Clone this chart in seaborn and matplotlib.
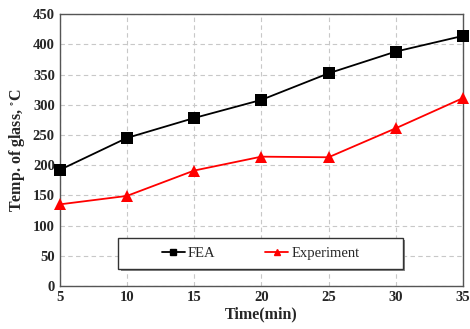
import pandas as pd
import seaborn as sns
import matplotlib.pyplot as plt
from matplotlib.ticker import MultipleLocator
from matplotlib.patches import Rectangle

sns.set_style('white')
plt.rcParams['font.family'] = ['Liberation Serif', 'DejaVu Serif']
plt.rcParams['mathtext.fontset'] = 'stix'

time_min = [5, 10, 15, 20, 25, 30, 35]
fea = [192, 245, 278, 308, 352, 388, 414]
experiment = [135, 149, 191, 214, 213, 261, 311]

df = pd.DataFrame({
    'time': time_min * 2,
    'temp': fea + experiment,
    'series': ['FEA'] * len(fea) + ['Experiment'] * len(experiment),
})

fig = plt.figure(figsize=(4.7, 3.29), dpi=100)
ax = fig.add_axes([0.127, 0.131, 0.858, 0.826])

ax = sns.lineplot(data=df, x='time', y='temp', hue='series', style='series',
                  palette={'FEA': 'black', 'Experiment': 'red'},
                  markers={'FEA': 's', 'Experiment': '^'},
                  dashes=False, markersize=8, linewidth=1.3,
                  markeredgewidth=0, ax=ax, legend=False)
for ln in ax.get_lines():
    ln.set_clip_on(False)
    ln.set_zorder(7)

ax.set_xlim(5, 35)
ax.set_ylim(0, 450)
ax.xaxis.set_major_locator(MultipleLocator(5))
ax.xaxis.set_minor_locator(MultipleLocator(1))
ax.yaxis.set_major_locator(MultipleLocator(50))
ax.yaxis.set_minor_locator(MultipleLocator(10))
ax.tick_params(which='both', direction='in', color='#333333')
ax.tick_params(which='major', length=5, width=0.9, labelsize=10.5)
ax.tick_params(which='minor', length=2.5, width=0.7)
for lbl in ax.get_xticklabels() + ax.get_yticklabels():
    lbl.set_fontweight('bold')
ax.grid(True, which='major', linestyle=(0, (4, 3)), color='#c8c8c8', linewidth=0.8)
for s in ax.spines.values():
    s.set_color('#555555')
    s.set_linewidth(1.0)

ax.set_xlabel('Time(min)', fontsize=11.5, fontweight='bold', labelpad=2)
ax.set_ylabel('Temp. of glass, $^{\\circ}$C', fontsize=11.5, fontweight='bold', labelpad=4)

# legend box with shadow
shadow = Rectangle((0.151, 0.054), 0.706, 0.114, transform=ax.transAxes,
                   facecolor='#888888', edgecolor='none', zorder=4)
box = Rectangle((0.145, 0.0625), 0.706, 0.114, transform=ax.transAxes,
                facecolor='white', edgecolor='#333333', linewidth=1.0, zorder=5)
ax.add_patch(shadow)
ax.add_patch(box)

h1, = ax.plot([], [], color='black', marker='s', markersize=5, linewidth=1.3, label='FEA')
h2, = ax.plot([], [], color='red', marker='^', markersize=5, linewidth=1.3, label='Experiment')
leg = ax.legend(handles=[h1, h2], ncol=2, loc='center',
                bbox_to_anchor=(0.498, 0.119), frameon=False, fontsize=10.5,
                handlelength=1.6, handletextpad=0.2, columnspacing=3.4,
                borderaxespad=0, borderpad=0)
leg.set_zorder(6)

fig.savefig('out.png', dpi=100)
